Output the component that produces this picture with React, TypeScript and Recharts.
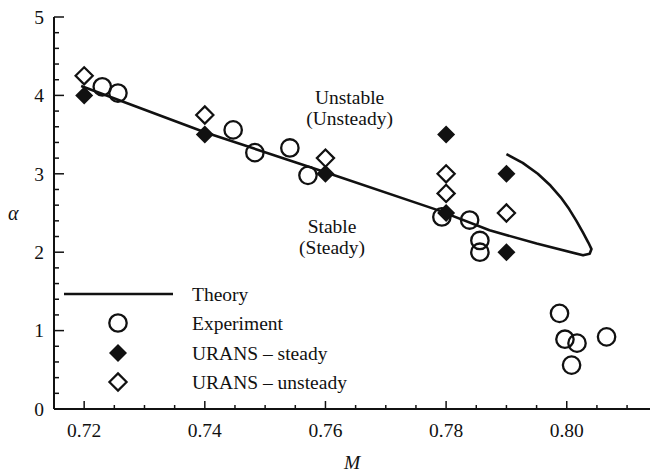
import { ScatterChart, Scatter, XAxis, YAxis, Legend, ReferenceDot } from "recharts";

const FONT = '"Liberation Serif", "Times New Roman", serif';
const INK = "#111";

// theory curve (stability boundary), drawn in order
const theoryM = [0.7195, 0.74, 0.76, 0.7785, 0.7872, 0.795, 0.8027, 0.8038, 0.8041, 0.8036, 0.8027, 0.8016, 0.8004, 0.799, 0.7973, 0.7952, 0.7927, 0.79];
const theoryAlpha = [4.12, 3.53, 3.02, 2.54, 2.28, 2.11, 1.96, 1.98, 2.04, 2.12, 2.25, 2.4, 2.55, 2.7, 2.85, 3.0, 3.14, 3.25];

const expM = [0.723, 0.7256, 0.7447, 0.7483, 0.7541, 0.7571, 0.7793, 0.7839, 0.7856, 0.7856, 0.7988, 0.7997, 0.8017, 0.8008, 0.8066];
const expAlpha = [4.11, 4.03, 3.56, 3.27, 3.33, 2.98, 2.45, 2.41, 2.15, 2.0, 1.22, 0.89, 0.84, 0.56, 0.92];

const steadyM = [0.72, 0.74, 0.76, 0.78, 0.78, 0.79, 0.79];
const steadyAlpha = [4.0, 3.5, 3.0, 3.5, 2.5, 3.0, 2.0];

const unsteadyM = [0.72, 0.74, 0.76, 0.78, 0.78, 0.79];
const unsteadyAlpha = [4.25, 3.75, 3.2, 3.0, 2.75, 2.5];

const xTicks = [0.72, 0.725, 0.73, 0.735, 0.74, 0.745, 0.75, 0.755, 0.76, 0.765, 0.77, 0.775, 0.78, 0.785, 0.79, 0.795, 0.8, 0.805, 0.81];
const xLabels = [0.72, 0.74, 0.76, 0.78, 0.8];
const yTicks = [0, 0.2, 0.4, 0.6, 0.8, 1, 1.2, 1.4, 1.6, 1.8, 2, 2.2, 2.4, 2.6, 2.8, 3, 3.2, 3.4, 3.6, 3.8, 4, 4.2, 4.4, 4.6, 4.8, 5];
const yLabels = [0, 1, 2, 3, 4, 5];

const legendItems = ["Theory", "Experiment", "URANS \u2013 steady", "URANS \u2013 unsteady"];

const notes = [
  { m: 0.764, alpha: 3.89, lines: ["Unstable", "(Unsteady)"] },
  { m: 0.7611, alpha: 2.25, lines: ["Stable", "(Steady)"] },
];

const zip = (ms: number[], as: number[]) => ms.map((m, i) => ({ m, alpha: as[i] }));

const theory = zip(theoryM, theoryAlpha);
const experiment = zip(expM, expAlpha);
const steady = zip(steadyM, steadyAlpha);
const unsteady = zip(unsteadyM, unsteadyAlpha);

const isIn = (list: number[], v: number) => list.some((l) => Math.abs(l - v) < 1e-6);

function Ring({ cx, cy }: any) {
  return <circle cx={cx} cy={cy} r={8.7} fill="none" stroke={INK} strokeWidth={2.3} />;
}

function diamond(cx: number, cy: number, h: number) {
  return `M${cx},${cy - h}L${cx + h},${cy}L${cx},${cy + h}L${cx - h},${cy}Z`;
}

function FilledDiamond({ cx, cy }: any) {
  return <path d={diamond(cx, cy, 9)} fill={INK} stroke="none" />;
}

function OpenDiamond({ cx, cy }: any) {
  return <path d={diamond(cx, cy, 8.6)} fill="#fff" stroke={INK} strokeWidth={2.2} />;
}

function NoDot() {
  return <g />;
}

function XTick({ x, y, payload }: any) {
  const major = isIn(xLabels, payload.value);
  return (
    <g>
      <line x1={x} x2={x} y1={y} y2={y - (major ? 8 : 4)} stroke={INK} strokeWidth={1.5} />
      {major && (
        <text x={x} y={y + 28} textAnchor="middle" fontFamily={FONT} fontSize={19.5} fill={INK}>
          {payload.value.toFixed(2)}
        </text>
      )}
    </g>
  );
}

function YTick({ x, y, payload }: any) {
  const major = isIn(yLabels, payload.value);
  return (
    <g>
      <line x1={x} x2={x + (major ? 10 : 5)} y1={y} y2={y} stroke={INK} strokeWidth={1.5} />
      {major && (
        <text x={x - 10} y={y} dy="0.35em" textAnchor="end" fontFamily={FONT} fontSize={19.5} fill={INK}>
          {payload.value}
        </text>
      )}
    </g>
  );
}

function LegendBox() {
  const rows = [14, 43, 73, 102];
  return (
    <svg width={360} height={120} style={{ display: "block" }}>
      <line x1={64} x2={173} y1={rows[0]} y2={rows[0]} stroke={INK} strokeWidth={2.6} />
      <Ring cx={118} cy={rows[1]} />
      <FilledDiamond cx={118} cy={rows[2]} />
      <OpenDiamond cx={118} cy={rows[3]} />
      {legendItems.map((label, i) => (
        <text key={label} x={192} y={rows[i] + 6.5} fontFamily={FONT} fontSize={19.5} fill={INK}>
          {label}
        </text>
      ))}
    </svg>
  );
}

function NoteText(lines: string[]) {
  return ({ cx, cy }: any) => (
    <text x={cx} y={cy} textAnchor="middle" fontFamily={FONT} fontSize={19.5} fill={INK}>
      {lines.map((t, i) => (
        <tspan key={t} x={cx} dy={i === 0 ? 0 : 21}>
          {t}
        </tspan>
      ))}
    </text>
  );
}

export default function App() {
  return (
    <div style={{ position: "absolute", left: 0, top: 0, width: 650, height: 472, background: "#fff" }}>
      <ScatterChart width={650} height={472} margin={{ top: 17, right: 0, bottom: 0, left: 0 }}>
        <XAxis
          type="number"
          dataKey="m"
          domain={[0.715, 0.8138]}
          ticks={xTicks}
          interval={0}
          tick={<XTick />}
          tickLine={false}
          tickSize={0}
          tickMargin={0}
          axisLine={{ stroke: INK, strokeWidth: 2 }}
          height={63}
          allowDataOverflow
          label={{ value: "M", position: "insideBottom", offset: 3, style: { fontFamily: FONT, fontStyle: "italic", fontSize: 19.5, fill: INK } }}
        />
        <YAxis
          type="number"
          dataKey="alpha"
          domain={[0, 5]}
          ticks={yTicks}
          interval={0}
          tick={<YTick />}
          tickLine={false}
          tickSize={0}
          tickMargin={0}
          axisLine={{ stroke: INK, strokeWidth: 2 }}
          width={54}
          allowDataOverflow
          label={{ value: "\u03b1", position: "insideLeft", offset: 8, style: { fontFamily: FONT, fontStyle: "italic", fontSize: 20, fill: INK } }}
        />
        <Scatter
          name="Theory"
          data={theory}
          line={{ stroke: INK, strokeWidth: 2.6, strokeLinejoin: "round" }}
          lineJointType="linear"
          shape={<NoDot />}
          isAnimationActive={false}
        />
        <Scatter name="Experiment" data={experiment} shape={<Ring />} isAnimationActive={false} />
        <Scatter name="URANS – steady" data={steady} shape={<FilledDiamond />} isAnimationActive={false} />
        <Scatter name="URANS – unsteady" data={unsteady} shape={<OpenDiamond />} isAnimationActive={false} />
        {notes.map((n) => (
          <ReferenceDot key={n.lines[0]} x={n.m} y={n.alpha} r={1} shape={NoteText(n.lines)} />
        ))}
        <Legend
          layout="vertical"
          align="center"
          verticalAlign="middle"
          content={<LegendBox />}
          wrapperStyle={{ left: 0, top: 280, width: 360, height: 120 }}
        />
      </ScatterChart>
    </div>
  );
}
